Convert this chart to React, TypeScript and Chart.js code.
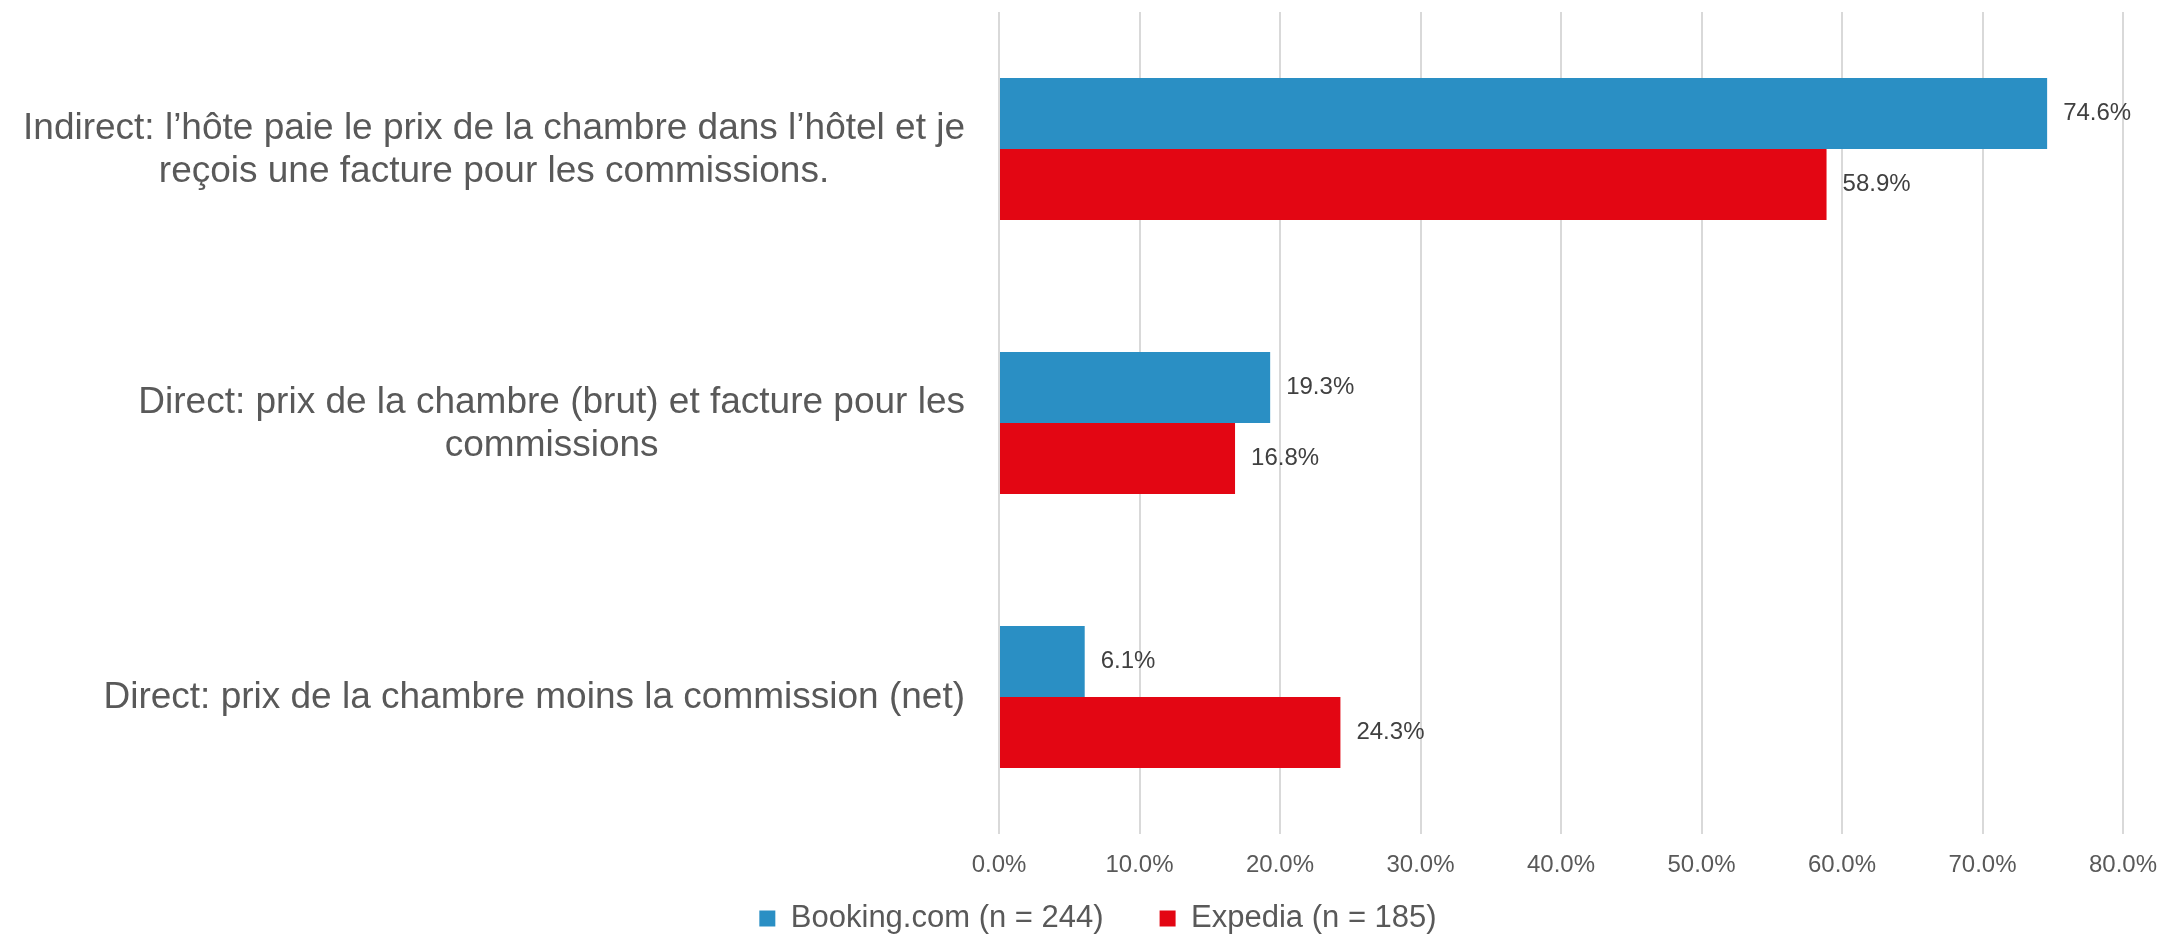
import React, { useEffect, useRef } from "react";
import { Chart, registerables } from "chart.js";

Chart.register(...registerables);

const categories: string[][] = [
  ["Indirect: l’hôte paie le prix de la chambre dans l’hôtel et je", "reçois une facture pour les commissions."],
  ["Direct: prix de la chambre (brut) et facture pour les", "commissions"],
  ["Direct: prix de la chambre moins la commission (net)"],
];
const seriesNames = ["Booking.com (n = 244)", "Expedia (n = 185)"];
const bookingValues = [74.6, 19.3, 6.1];
const expediaValues = [58.9, 16.8, 24.3];
const xTicks = [0, 10, 20, 30, 40, 50, 60, 70, 80];

const FONT = '"Liberation Sans", Arial, sans-serif';
const BLUE = "#2A8FC4";
const RED = "#E30613";

const fmtPct = (v: number) => v.toFixed(1) + "%";

// Category labels: right-aligned blocks, lines centred inside each block
const categoryLabelPlugin = {
  id: "categoryLabels",
  afterDraw(chart: any) {
    const yScale = chart.scales.y;
    const ctx = chart.ctx;
    ctx.save();
    ctx.font = `37px ${FONT}`;
    ctx.fillStyle = "#595959";
    ctx.textAlign = "center";
    ctx.textBaseline = "middle";
    const right = chart.chartArea.left - 34;
    const lh = 43;
    categories.forEach((lines, i) => {
      const cy = yScale.getPixelForValue(i) + 1;
      const maxW = Math.max(...lines.map((l) => ctx.measureText(l).width));
      const cx = right - maxW / 2;
      lines.forEach((l, j) => {
        ctx.fillText(l, cx, cy + (j - (lines.length - 1) / 2) * lh);
      });
    });
    ctx.restore();
  },
};

// X tick labels drawn at the scale's own tick positions
const xTickLabelPlugin = {
  id: "xTickLabels",
  afterDraw(chart: any) {
    const xScale = chart.scales.x;
    const ctx = chart.ctx;
    ctx.save();
    ctx.font = `24px ${FONT}`;
    ctx.fillStyle = "#595959";
    ctx.textAlign = "center";
    ctx.textBaseline = "middle";
    const y = chart.chartArea.bottom + 31;
    xTicks.forEach((v) => {
      ctx.fillText(fmtPct(v), xScale.getPixelForValue(v), y);
    });
    ctx.restore();
  },
};

const valueLabelPlugin = {
  id: "valueLabels",
  afterDatasetsDraw(chart: any) {
    const ctx = chart.ctx;
    ctx.save();
    ctx.font = `24px ${FONT}`;
    ctx.fillStyle = "#404040";
    ctx.textAlign = "left";
    ctx.textBaseline = "middle";
    chart.data.datasets.forEach((ds: any, di: number) => {
      const meta = chart.getDatasetMeta(di);
      meta.data.forEach((el: any, i: number) => {
        ctx.fillText(fmtPct(ds.data[i]), el.x + 16, el.y);
      });
    });
    ctx.restore();
  },
};

export default function App() {
  const ref = useRef<HTMLCanvasElement | null>(null);

  useEffect(() => {
    if (!ref.current) return;
    const chart = new Chart(ref.current, {
      type: "bar",
      data: {
        labels: categories,
        datasets: [
          {
            label: seriesNames[0],
            data: bookingValues,
            backgroundColor: BLUE,
            borderWidth: 0,
          },
          {
            label: seriesNames[1],
            data: expediaValues,
            backgroundColor: RED,
            borderWidth: 0,
          },
        ],
      },
      options: {
        indexAxis: "y",
        responsive: false,
        animation: false,
        devicePixelRatio: 1,
        layout: { padding: { left: 65, right: 36, top: 4, bottom: 0 } },
        datasets: {
          bar: { categoryPercentage: 0.518, barPercentage: 1 },
        },
        scales: {
          x: {
            type: "linear",
            min: 0,
            max: 80,
            afterBuildTicks: (scale: any) => {
              scale.ticks = xTicks.map((v) => ({ value: v }));
            },
            afterFit: (scale: any) => {
              scale.height = 13;
            },
            grid: { color: "#d9d9d9", lineWidth: 2, drawTicks: false },
            border: { display: false },
            ticks: { display: false },
          },
          y: {
            type: "category",
            grid: { display: false },
            border: { display: false },
            ticks: { display: false },
            afterFit: (scale: any) => {
              scale.width = 926;
            },
          },
        },
        plugins: {
          legend: {
            position: "bottom",
            labels: {
              boxWidth: 16,
              boxHeight: 16,
              padding: 56,
              color: "#595959",
              font: { family: FONT, size: 31 },
            },
          },
          tooltip: { enabled: false },
        },
      },
      plugins: [categoryLabelPlugin, xTickLabelPlugin, valueLabelPlugin],
    });
    return () => chart.destroy();
  }, []);

  return (
    <canvas
      ref={ref}
      width={2151}
      height={936}
      style={{ display: "block", position: "fixed", left: 8, top: 8, width: 2151, height: 936 }}
    />
  );
}
